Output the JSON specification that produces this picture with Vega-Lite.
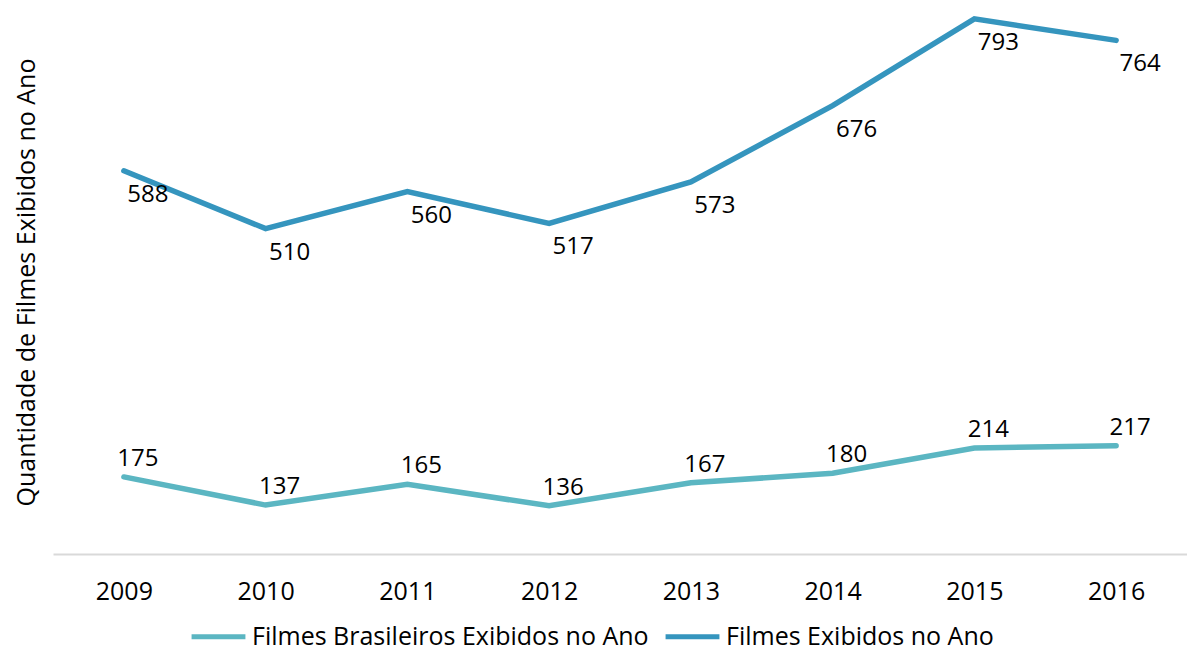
{
  "$schema": "https://vega.github.io/schema/vega-lite/v6.json",
  "width": 1134,
  "height": 544,
  "autosize": "none",
  "padding": {"left": 53, "right": 0, "top": 10, "bottom": 97},
  "background": "white",
  "config": {
    "font": "Open Sans",
    "view": {"stroke": null}
  },
  "data": {
    "values": [
      {"ano": "2009", "serie": "Filmes Brasileiros Exibidos no Ano", "valor": 175},
      {"ano": "2010", "serie": "Filmes Brasileiros Exibidos no Ano", "valor": 137},
      {"ano": "2011", "serie": "Filmes Brasileiros Exibidos no Ano", "valor": 165},
      {"ano": "2012", "serie": "Filmes Brasileiros Exibidos no Ano", "valor": 136},
      {"ano": "2013", "serie": "Filmes Brasileiros Exibidos no Ano", "valor": 167},
      {"ano": "2014", "serie": "Filmes Brasileiros Exibidos no Ano", "valor": 180},
      {"ano": "2015", "serie": "Filmes Brasileiros Exibidos no Ano", "valor": 214},
      {"ano": "2016", "serie": "Filmes Brasileiros Exibidos no Ano", "valor": 217},
      {"ano": "2009", "serie": "Filmes Exibidos no Ano", "valor": 588},
      {"ano": "2010", "serie": "Filmes Exibidos no Ano", "valor": 510},
      {"ano": "2011", "serie": "Filmes Exibidos no Ano", "valor": 560},
      {"ano": "2012", "serie": "Filmes Exibidos no Ano", "valor": 517},
      {"ano": "2013", "serie": "Filmes Exibidos no Ano", "valor": 573},
      {"ano": "2014", "serie": "Filmes Exibidos no Ano", "valor": 676},
      {"ano": "2015", "serie": "Filmes Exibidos no Ano", "valor": 793},
      {"ano": "2016", "serie": "Filmes Exibidos no Ano", "valor": 764}
    ]
  },
  "encoding": {
    "x": {
      "field": "ano", "type": "ordinal",
      "scale": {"type": "point", "padding": 0.5},
      "axis": {
        "title": null, "labelAngle": 0, "labelFontSize": 25, "labelColor": "#000000",
        "labelPadding": 25, "ticks": false, "domainColor": "#d9d9d9", "domainWidth": 2, "grid": false
      }
    },
    "y": {
      "field": "valor", "type": "quantitative",
      "scale": {"domain": [71, 805], "zero": false, "nice": false},
      "axis": {
        "title": "Quantidade de Filmes Exibidos no Ano", "titleFontSize": 25, "titleFontWeight": "normal",
        "titleColor": "#000000", "labels": false, "ticks": false, "domain": false, "grid": false, "titlePadding": 14
      }
    }
  },
  "layer": [
    {
      "mark": {"type": "line", "strokeWidth": 5.5, "strokeCap": "round", "strokeJoin": "miter"},
      "encoding": {
        "color": {
          "field": "serie", "type": "nominal",
          "scale": {
            "domain": ["Filmes Brasileiros Exibidos no Ano", "Filmes Exibidos no Ano"],
            "range": ["#5bb6c2", "#3595be"]
          },
          "legend": {
            "title": null, "orient": "none", "legendX": 136, "legendY": 597, "direction": "horizontal", "symbolType": "stroke",
            "symbolStrokeWidth": 5, "symbolSize": 2900, "labelFontSize": 25, "labelColor": "#000000", "labelLimit": 600,
            "columnPadding": 6, "labelOffset": 4
          }
        }
      }
    },
    {
      "transform": [{"filter": "datum.serie === 'Filmes Exibidos no Ano'"}],
      "mark": {"type": "text", "fontSize": 24, "dy": 24, "dx": 24, "color": "#000000"},
      "encoding": {"text": {"field": "valor", "type": "quantitative"}}
    },
    {
      "transform": [{"filter": "datum.serie === 'Filmes Brasileiros Exibidos no Ano'"}],
      "mark": {"type": "text", "fontSize": 24, "dy": -18, "dx": 14, "color": "#000000"},
      "encoding": {"text": {"field": "valor", "type": "quantitative"}}
    }
  ]
}
